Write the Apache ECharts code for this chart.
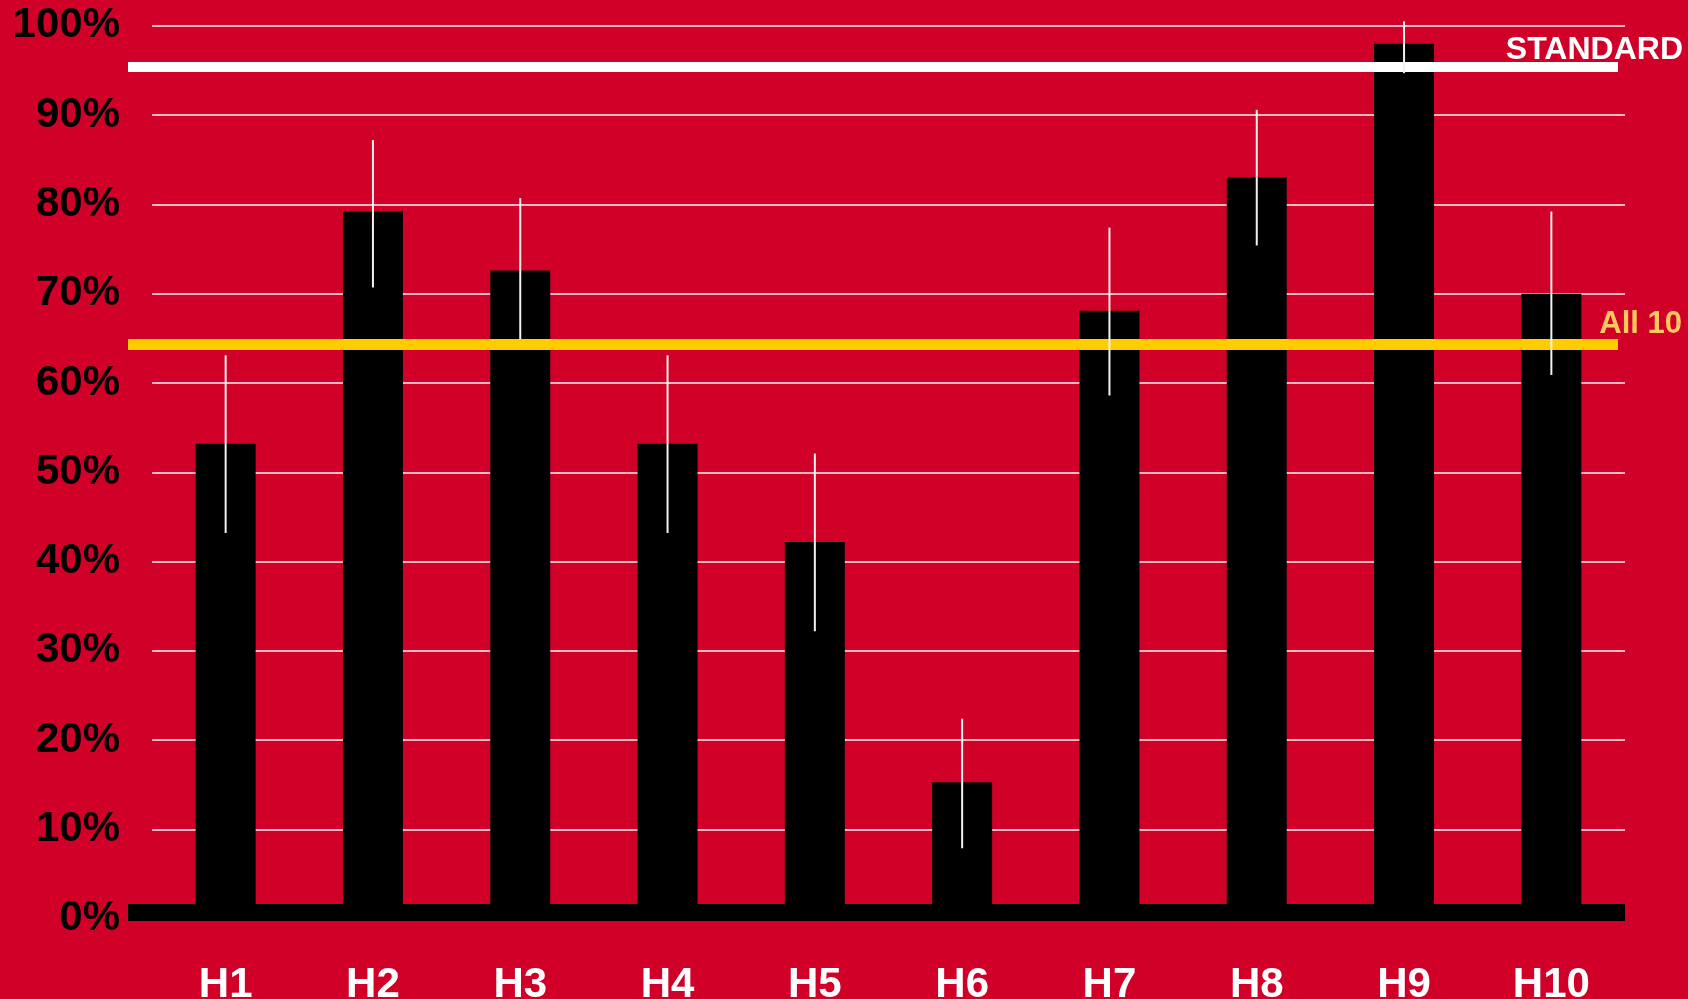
<!DOCTYPE html>
<html>
<head>
<meta charset="utf-8">
<script src="https://cdn.jsdelivr.net/npm/echarts@6/dist/echarts.min.js"></script>
<style>
  html, body { margin: 0; padding: 0; background: #d00028; }
  #chart { width: 1688px; height: 999px; }
</style>
</head>
<body>
<div id="chart"></div>
<script>
// data (percent)
var categories = ["H1", "H2", "H3", "H4", "H5", "H6", "H7", "H8", "H9", "H10"];
var scores = [53.2, 79.2, 72.6, 53.2, 42.2, 15.3, 68.1, 83.0, 98.0, 70.0];
var errLow = [43.2, 70.7, 64.9, 43.2, 32.2, 7.9, 58.6, 75.4, 94.7, 60.9];
var errHigh = [63.1, 87.2, 80.7, 63.1, 52.1, 22.4, 77.4, 90.6, 100.5, 79.2];
var standardLevel = 95.4;
var allTenLevel = 64.3;
var yMin = 0, yMax = 100, yStep = 10;

var chart = echarts.init(document.getElementById("chart"));

var errData = categories.map(function (c, i) {
  return [i, errLow[i], errHigh[i]];
});

var font = "Liberation Sans, Arial, sans-serif";

var option = {
  backgroundColor: "#d00028",
  animation: false,
  grid: {
    left: 152, right: 63, top: 25.8, bottom: 80.2,
    containLabel: false,
    outerBoundsMode: "none"
  },
  xAxis: {
    type: "category",
    data: categories,
    offset: -6.5,
    axisLine: { lineStyle: { color: "#000", width: 17, cap: "butt" } },
    axisTick: { show: false },
    axisLabel: {
      color: "#fff",
      fontFamily: font,
      fontWeight: "bold",
      fontSize: 42,
      margin: 52
    }
  },
  yAxis: {
    type: "value",
    min: yMin,
    max: yMax,
    interval: yStep,
    axisLine: { show: false },
    axisTick: { show: false },
    axisLabel: {
      formatter: "{value}%",
      color: "#000",
      fontFamily: font,
      fontWeight: "bold",
      fontSize: 42,
      margin: 32
    },
    splitLine: { lineStyle: { color: "rgba(255,255,255,0.72)", width: 2 } }
  },
  series: [
    {
      type: "bar",
      data: scores,
      barWidth: 60,
      itemStyle: { color: "#000" },
      markLine: {
        silent: true,
        symbol: "none",
        data: [
          // short stub so the base band runs out past the plot's left edge
          [
            { x: 128, y: 912.3, lineStyle: { color: "#000", width: 17, type: "solid", cap: "butt" }, label: { show: false } },
            { x: 170, y: 912.3 }
          ],
          [
            {
              yAxis: standardLevel, x: 128,
              lineStyle: { color: "#fff", width: 10, type: "solid" },
              label: {
                show: true, formatter: "STANDARD", position: "insideEndTop",
                distance: [-65, 1], color: "#fff",
                fontFamily: font, fontWeight: "bold", fontSize: 32
              }
            },
            { yAxis: standardLevel, x: 1618 }
          ],
          [
            {
              yAxis: allTenLevel, x: 128,
              lineStyle: { color: "#ffcc00", width: 11, type: "solid" },
              label: {
                show: true, formatter: "All 10", position: "insideEndTop",
                distance: [-64, 5], color: "#ffc85f",
                fontFamily: font, fontWeight: "bold", fontSize: 31
              }
            },
            { yAxis: allTenLevel, x: 1618 }
          ]
        ]
      }
    },
    {
      type: "custom",
      z: 10,
      clip: false,
      data: errData,
      renderItem: function (params, api) {
        var lo = api.coord([api.value(0), api.value(1)]);
        var hi = api.coord([api.value(0), api.value(2)]);
        return {
          type: "line",
          shape: { x1: lo[0], y1: lo[1], x2: hi[0], y2: hi[1] },
          style: { stroke: "#f2f2f2", lineWidth: 2 }
        };
      }
    }
  ]
};

chart.setOption(option);
</script>
</body>
</html>
